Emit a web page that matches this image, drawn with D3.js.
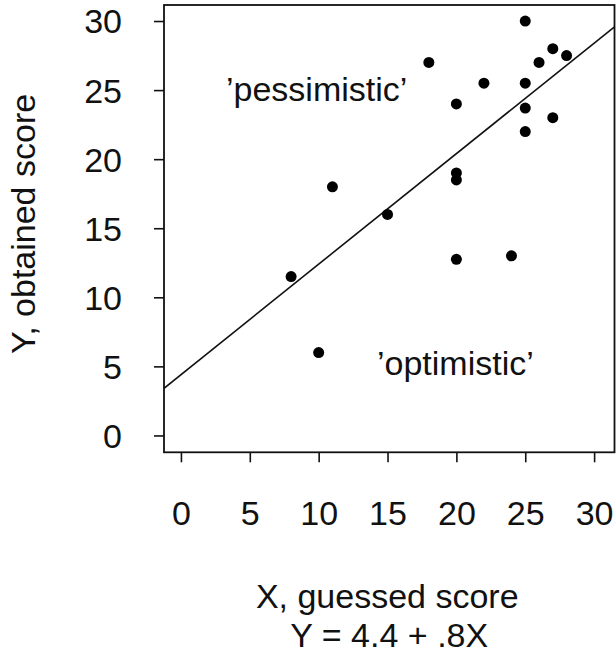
<!DOCTYPE html>
<html>
<head>
<meta charset="utf-8">
<script src="https://cdn.jsdelivr.net/npm/d3@7"></script>
<style>
  html, body { margin: 0; padding: 0; background: #fff; }
  svg { display: block; font-family: "Liberation Sans", Arial, Helvetica, sans-serif; }
</style>
</head>
<body>
<svg id="chart" width="616" height="657"></svg>
<script>
// Guessed vs obtained scores, one point per student
const guessed  = [25, 27, 28, 26, 18, 22, 25, 20, 25, 27, 25, 20, 20, 11, 15, 20, 24, 8, 10];
const obtained = [30, 28, 27.5, 27, 27, 25.5, 25.5, 24, 23.7, 23, 22, 19, 18.5, 18, 16, 12.75, 13, 11.5, 6];

// Fitted line Y = a + bX
const intercept = 4.4;
const slope = 0.8;

const xTicks = [0, 5, 10, 15, 20, 25, 30];
const yTicks = [0, 5, 10, 15, 20, 25, 30];

const xTitle = "X, guessed score";
const fitTitle = "Y = 4.4 + .8X";
const yTitle = "Y, obtained score";
const regionLabels = ["\u2019pessimistic\u2019", "\u2019optimistic\u2019"];

const svg = d3.select("#chart");
const fontSize = 34;

const box = { left: 164, right: 614.5, top: 5, bottom: 452.3 };

const x = d3.scaleLinear().domain([-1.23, 31.48]).range([box.left, box.right]);
const y = d3.scaleLinear().domain([-1.22, 31.16]).range([box.bottom, box.top]);

// Clip for the regression line
svg.append("defs").append("clipPath").attr("id", "plotClip")
  .append("rect")
  .attr("x", box.left).attr("y", box.top)
  .attr("width", box.right - box.left).attr("height", box.bottom - box.top);

// Left axis
const yAxis = svg.append("g")
  .attr("transform", `translate(${box.left},0)`)
  .call(d3.axisLeft(y).tickValues(yTicks).tickSize(10).tickPadding(32).tickFormat(d3.format("d")));
yAxis.select(".domain").remove();
yAxis.selectAll(".tick line").attr("stroke", "#111").attr("stroke-width", 1.6);
yAxis.selectAll(".tick text")
  .attr("font-size", fontSize).attr("font-family", null)
  .attr("fill", "#111").attr("dy", "0.35em");

// Bottom axis
const xAxis = svg.append("g")
  .attr("transform", `translate(0,${box.bottom})`)
  .call(d3.axisBottom(x).tickValues(xTicks).tickSize(10).tickFormat(d3.format("d")));
xAxis.select(".domain").remove();
xAxis.selectAll(".tick line").attr("stroke", "#111").attr("stroke-width", 1.6);
xAxis.selectAll(".tick text")
  .attr("font-size", fontSize).attr("font-family", null)
  .attr("fill", "#111").attr("y", 73).attr("dy", 0);

// Plot frame
svg.append("rect")
  .attr("x", box.left).attr("y", box.top)
  .attr("width", box.right - box.left).attr("height", box.bottom - box.top)
  .attr("fill", "none").attr("stroke", "#111").attr("stroke-width", 1.8);

// Regression line across the full frame
const [x0, x1] = x.domain();
svg.append("line")
  .attr("clip-path", "url(#plotClip)")
  .attr("x1", x(x0)).attr("y1", y(intercept + slope * x0))
  .attr("x2", x(x1)).attr("y2", y(intercept + slope * x1))
  .attr("stroke", "#111").attr("stroke-width", 1.6);

// Points
svg.append("g").selectAll("circle")
  .data(guessed.map((g, i) => [g, obtained[i]]))
  .join("circle")
  .attr("cx", d => x(d[0])).attr("cy", d => y(d[1]))
  .attr("r", 5.5).attr("fill", "#000");

// Region annotations
svg.append("text").attr("x", 226).attr("y", 101)
  .attr("font-size", fontSize).attr("fill", "#111").text(regionLabels[0]);
svg.append("text").attr("x", 377).attr("y", 375)
  .attr("font-size", fontSize).attr("fill", "#111").text(regionLabels[1]);

// Axis titles
const cx = (box.left + box.right) / 2;
svg.append("text").attr("x", cx - 2).attr("y", 608)
  .attr("text-anchor", "middle").attr("font-size", fontSize).attr("fill", "#111").text(xTitle);
svg.append("text").attr("x", cx).attr("y", 647)
  .attr("text-anchor", "middle").attr("font-size", fontSize).attr("fill", "#111").text(fitTitle);
svg.append("text")
  .attr("transform", `translate(35,224) rotate(-90)`)
  .attr("text-anchor", "middle").attr("font-size", fontSize).attr("fill", "#111").text(yTitle);
</script>
</body>
</html>
